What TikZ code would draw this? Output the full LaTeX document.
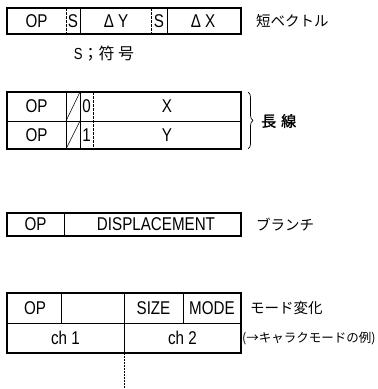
\documentclass[tikz,border=0pt]{standalone}
\usepackage{fontspec}
\setmainfont{Liberation Sans}[FakeStretch=0.82]
\newfontfamily\jp{Noto Sans CJK JP}
\newfontfamily\jpb{Noto Sans CJK JP}[FakeBold=1.5]
\usetikzlibrary{decorations.pathreplacing}
\begin{document}
\begin{tikzpicture}[x=1pt,y=-1pt,
  frame/.style={line width=1.2pt},
  sep/.style={line width=0.55pt},
  dsep/.style={line width=0.55pt,dash pattern=on 3pt off 1pt},
  ftxt/.style={inner sep=0pt,font=\fontsize{18.5}{20}\selectfont},
  jtxt/.style={inner sep=0pt,anchor=west,font=\fontsize{14.5}{16}\selectfont\jp}]
\useasboundingbox (0,0) rectangle (378,389);
% ---- box 1: short vector
\draw[frame] (7,8) rectangle (241,34);
\draw[dsep] (66,8) -- (66,34);
\draw[sep] (80,8) -- (80,34);
\draw[dsep] (151,8) -- (151,34);
\draw[sep] (167,8) -- (167,34);
\node[ftxt] (b1op) at (36.5,21) {OP};
\node[ftxt] (b1s1) at (73,21) {S};
\node[ftxt] (b1dy) at (116,21) {Δ Y};
\node[ftxt] (b1s2) at (159,21) {S};
\node[ftxt] (b1dx) at (203,21) {Δ X};
\node[jtxt] (l1) at (256,21) {短ベクトル};
\node[inner sep=0pt,font=\fontsize{16}{18}\selectfont] (snote) at (104,54) {S\jp；符 号};
% ---- box 2: long line
\draw[frame] (7,92) rectangle (241,149);
\draw[sep] (7,121) -- (241,121);
\draw[sep] (66,92) -- (66,149);
\draw[sep] (80,92) -- (80,149);
\draw[dsep] (93,92) -- (93,149);
\draw[sep] (66,121) -- (80,92);
\draw[sep] (66,149) -- (80,121);
\node[ftxt] (b2op1) at (36.5,106.5) {OP};
\node[ftxt] (b2op2) at (36.5,135) {OP};
\node[ftxt] (b2z) at (86.5,106.5) {0};
\node[ftxt] (b2o) at (86.5,135) {1};
\node[ftxt] (b2x) at (167,106.5) {X};
\node[ftxt] (b2y) at (167,135) {Y};
\coordinate (brT) at (248,92);
\coordinate (brB) at (248,149);
\draw[line width=0.7pt,decorate,decoration={brace,amplitude=5pt}] (brT) -- (brB);
\node[jtxt,font=\fontsize{15}{17}\selectfont\jpb] (l2) at (261,121) {長\,\,線};
% ---- box 3: branch
\draw[frame] (7,213) rectangle (241,236);
\draw[sep] (64,213) -- (64,236);
\node[ftxt] (b3op) at (35.5,224.5) {OP};
\node[ftxt] (b3d) at (156,224.5) {DISPLACEMENT};
\node[jtxt] (l3) at (256,224.5) {ブランチ};
% ---- box 4: mode change
\draw[frame] (7,293) rectangle (241,353);
\draw[sep] (7,323) -- (241,323);
\draw[sep] (61,293) -- (61,323);
\draw[sep] (124,293) -- (124,353);
\draw[sep] (183,293) -- (183,323);
\node[ftxt] (b4op) at (35,308) {OP};
\node[ftxt] (b4sz) at (153.5,308) {SIZE};
\node[ftxt] (b4md) at (212,308) {MODE};
\node[ftxt] (b4c1) at (65.5,338) {ch 1};
\node[ftxt] (b4c2) at (182.5,338) {ch 2};
\coordinate (dtop) at (124,353);
\coordinate (dbot) at (124,388);
\draw[line width=0.9pt,dash pattern=on 1.5pt off 1.5pt] (dtop) -- (dbot);
\node[jtxt] (l4) at (250,308) {モード変化};
\node[jtxt,font=\fontsize{12.5}{14}\selectfont\jp] (l5) at (242,338) {(→キャラクモードの例)};
\end{tikzpicture}
\end{document}
